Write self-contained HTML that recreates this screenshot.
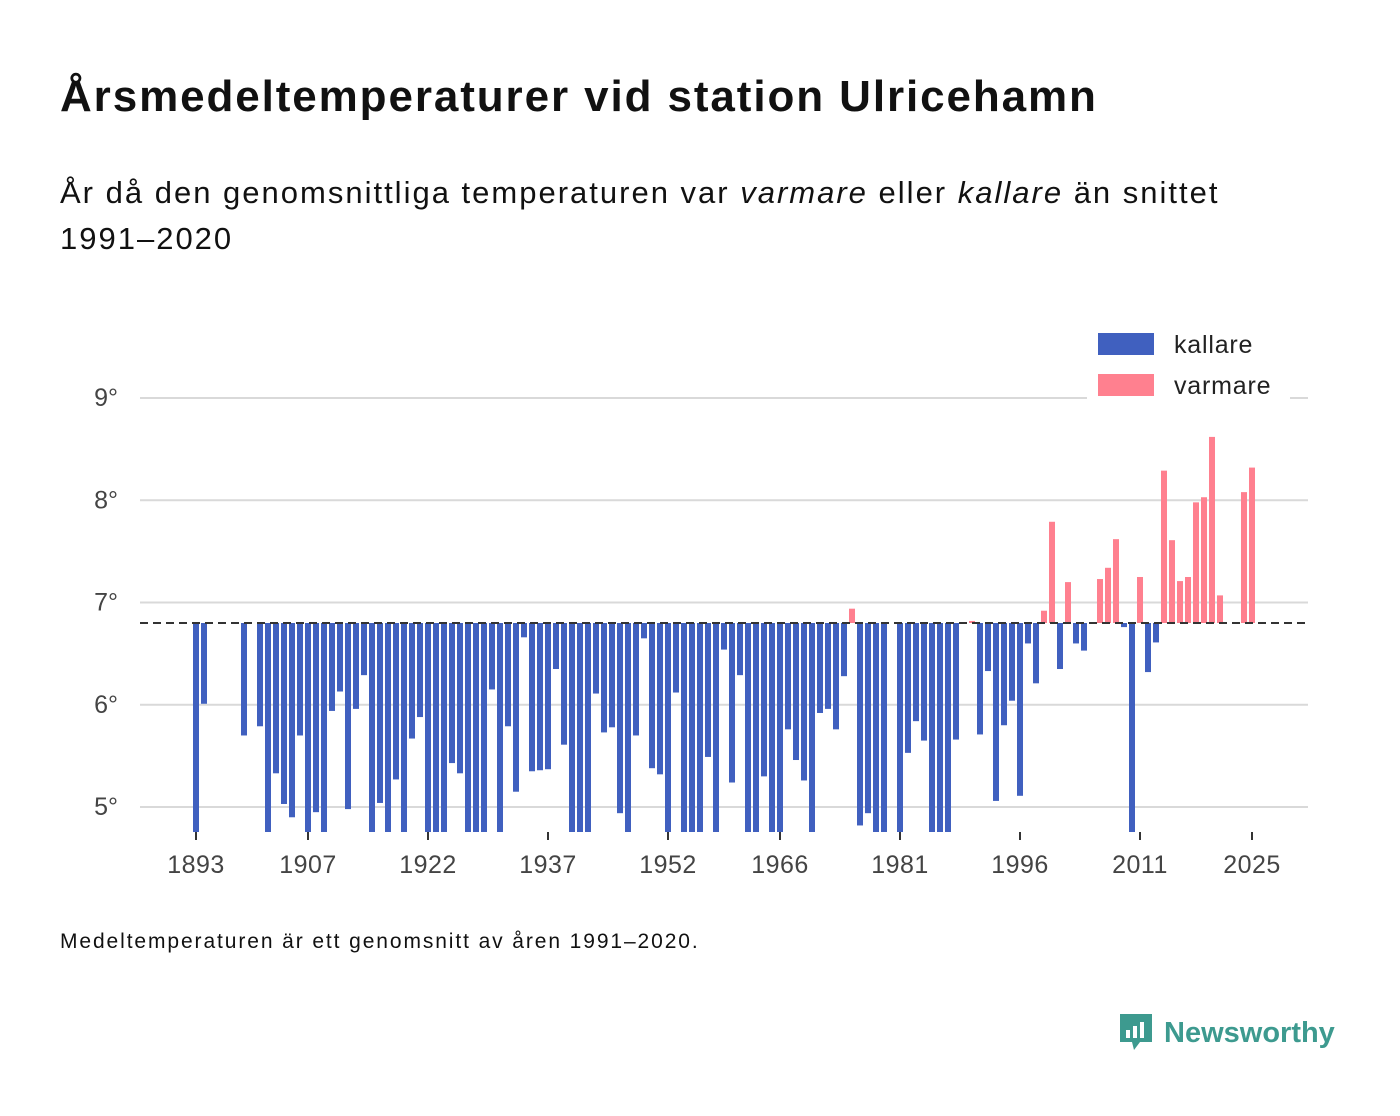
<!DOCTYPE html>
<html><head><meta charset="utf-8">
<style>
body{margin:0;background:#fff;width:1400px;height:1116px;overflow:hidden;font-family:"Liberation Sans","DejaVu Sans",sans-serif;color:#111;}
#title{position:absolute;left:60px;top:72px;font-size:44px;letter-spacing:1.9px;font-weight:bold;margin:0;}
#sub{position:absolute;left:60px;top:170px;font-size:31px;letter-spacing:2px;line-height:46px;width:1250px;}
#foot{position:absolute;left:60px;top:930px;font-size:21px;letter-spacing:1.9px;}
#logo{position:absolute;left:1118px;top:1012px;display:flex;align-items:center;color:#3d9a8f;font-size:29px;font-weight:bold;}
</style></head><body>
<h1 id="title">Årsmedeltemperaturer vid station Ulricehamn</h1>
<div id="sub">År då den genomsnittliga temperaturen var <i>varmare</i> eller <i>kallare</i> än snittet<br>1991–2020</div>
<svg id="chart" width="1400" height="1116" style="position:absolute;left:0;top:0"></svg>
<div id="foot">Medeltemperaturen är ett genomsnitt av åren 1991–2020.</div>
<div id="logo">
<svg width="36" height="42" viewBox="0 0 36 42" style="margin-right:10px"><path d="M2 2h32v28H22l-6 8-2-8H2z" fill="#3d9a8f"/><rect x="8" y="18" width="4" height="8" fill="#fff"/><rect x="15" y="14" width="4" height="12" fill="#fff"/><rect x="22" y="10" width="4" height="16" fill="#fff"/></svg>
<span>Newsworthy</span></div>
<script>
const years=[1893,1894,1899,1901,1902,1903,1904,1905,1906,1907,1908,1909,1910,1911,1912,1913,1914,1915,1916,1917,1918,1919,1920,1921,1922,1923,1924,1925,1926,1927,1928,1929,1930,1931,1932,1933,1934,1935,1936,1937,1938,1939,1940,1941,1942,1943,1944,1945,1946,1947,1948,1949,1950,1951,1952,1953,1954,1955,1956,1957,1958,1959,1960,1961,1962,1963,1964,1965,1966,1967,1968,1969,1970,1971,1972,1973,1974,1975,1976,1977,1978,1979,1981,1982,1983,1984,1985,1986,1987,1988,1990,1991,1992,1993,1994,1995,1996,1997,1998,1999,2000,2001,2002,2003,2004,2006,2007,2008,2009,2010,2011,2012,2013,2014,2015,2016,2017,2018,2019,2020,2021,2024,2025];
const temps=[4.5,6.01,5.70,5.79,4.5,5.33,5.03,4.90,5.70,4.5,4.95,4.5,5.94,6.13,4.98,5.96,6.29,4.5,5.04,4.5,5.27,4.5,5.67,5.88,4.5,4.5,4.5,5.43,5.33,4.5,4.5,4.5,6.15,4.5,5.79,5.15,6.66,5.35,5.36,5.37,6.35,5.61,4.5,4.5,4.5,6.11,5.73,5.78,4.94,4.5,5.70,6.65,5.38,5.32,4.5,6.12,4.5,4.5,4.5,5.49,4.5,6.54,5.24,6.29,4.5,4.5,5.30,4.5,4.5,5.76,5.46,5.26,4.5,5.92,5.96,5.76,6.28,6.94,4.82,4.94,4.5,4.5,4.5,5.53,5.84,5.65,4.5,4.5,4.5,5.66,6.82,5.71,6.33,5.06,5.80,6.04,5.11,6.60,6.21,6.92,7.79,6.35,7.20,6.60,6.53,7.23,7.34,7.62,6.76,4.5,7.25,6.32,6.61,8.29,7.61,7.21,7.25,7.98,8.03,8.62,7.07,8.08,8.32];
const baseline=6.8;
const yTicks=[5,6,7,8,9];
const xTicks=[1893,1907,1922,1937,1952,1966,1981,1996,2011,2025];
const NS="http://www.w3.org/2000/svg";
const svg=document.getElementById('chart');
const X0=140,X1=1308,YB=832;
function xs(y){return 196+(y-1893)*8;}
function ys(v){return 623-(v-baseline)*102.25;}
function mk(t,a,p){const e=document.createElementNS(NS,t);for(const k in a)e.setAttribute(k,a[k]);(p||svg).appendChild(e);return e;}
const defs=mk('defs',{});const cp=mk('clipPath',{id:'pc'},defs);mk('rect',{x:X0,y:300,width:X1-X0,height:YB-300},cp);
yTicks.forEach(v=>{
 const l=mk('line',{x1:X0,x2:X1,y1:ys(v),y2:ys(v),stroke:'#d9d9d9','stroke-width':2});
 
 
 const t=mk('text',{x:118,y:ys(v)+8,'text-anchor':'end','font-size':25,fill:'#444'});t.textContent=v+'°';
 
 
});
const g=mk('g',{'clip-path':'url(#pc)'});
years.forEach((yr,i)=>{
 const v=temps[i];const a=ys(v),b=ys(baseline);
 const r=mk('rect',{x:xs(yr)-3,y:Math.min(a,b),width:6,height:Math.max(Math.abs(a-b),0.5),fill:v>=baseline?'#ff808f':'#4060bf'},g);
 
 
});
const bl=mk('line',{x1:X0,x2:X1,y1:ys(baseline),y2:ys(baseline),stroke:'#333','stroke-width':2,'stroke-dasharray':'8,5'});


xTicks.forEach(yr=>{
 const tk=mk('line',{x1:xs(yr),x2:xs(yr),y1:YB,y2:YB+8,stroke:'#333','stroke-width':2});
 
 
 const t=mk('text',{x:xs(yr),y:873,'text-anchor':'middle','font-size':25,'letter-spacing':0.5,fill:'#444'});t.textContent=yr;
 
 
});
const lg=mk('g',{});


mk('rect',{x:1087,y:322,width:203,height:82,fill:'#fff'},lg);
[['kallare','#4060bf',333],['varmare','#ff808f',374]].forEach(d=>{
 const r=mk('rect',{x:1098,y:d[2],width:56,height:22,fill:d[1]},lg);
 
 
 const t=mk('text',{x:1174,y:d[2]+20,'font-size':25,'letter-spacing':0.8,fill:'#222'},lg);t.textContent=d[0];
 
 
});
</script>
</body></html>
